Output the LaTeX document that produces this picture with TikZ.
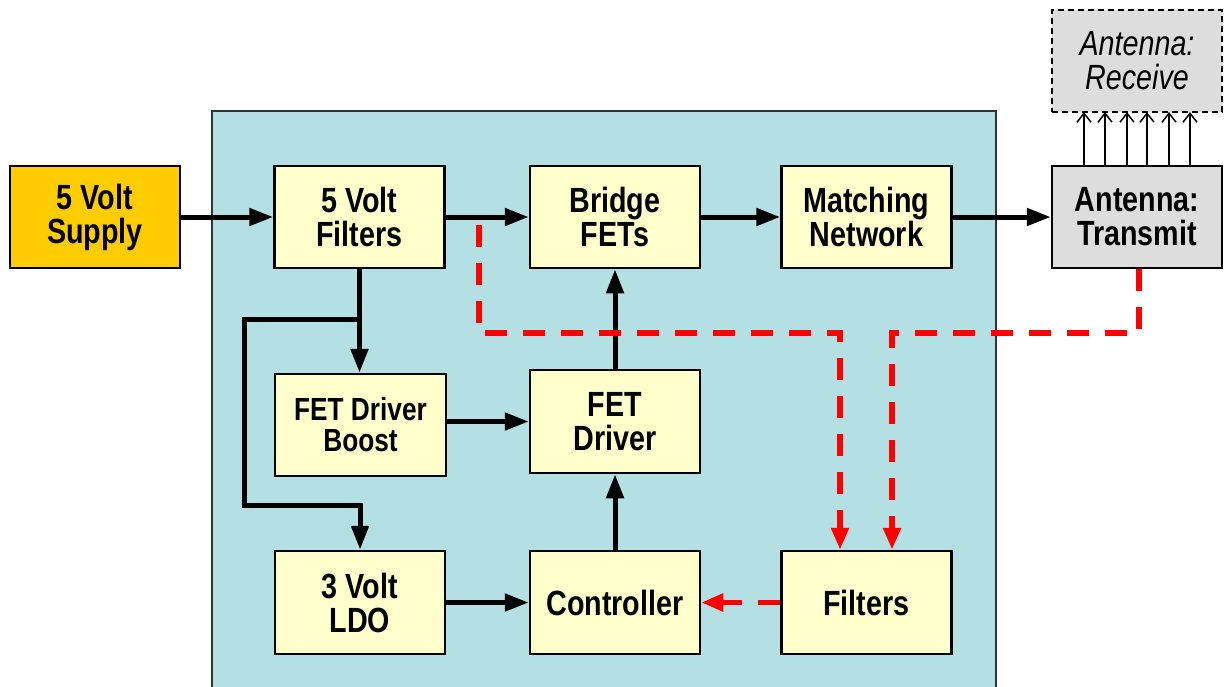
\documentclass[tikz,border=0pt]{standalone}
\usepackage{fontspec}
\setmainfont{Liberation Sans}[FakeStretch=0.82]
\usetikzlibrary{arrows.meta}
\definecolor{panel}{HTML}{B4DFE3}
\definecolor{boxy}{HTML}{FFFFCC}
\definecolor{supc}{HTML}{FFCC00}
\definecolor{grayb}{HTML}{DDDDDD}
\definecolor{redl}{HTML}{FF0000}
\tikzset{
  blk/.style={draw=black, line width=2.5pt, fill=boxy, minimum width=170pt, minimum height=102pt, align=center, inner sep=0pt, font=\fontsize{35}{34}\selectfont\bfseries},
  pw/.style={line width=5pt, -{Triangle[length=24pt,width=17pt]}},
  rd/.style={draw=redl, line width=5.5pt, dash pattern=on 22pt off 16pt, -{Triangle[length=22pt,width=17pt]}, redl},
  thin/.style={line width=1.5pt, -{Straight Barb[length=9pt,width=14pt]}},
}
\begin{document}
\begin{tikzpicture}[x=1pt,y=-1pt]
\useasboundingbox (0,0) rectangle (1225,686);
\fill[white] (0,0) rectangle (1225,686);
\draw[fill=panel, draw=black!80, line width=1.2pt] (212,111) rectangle (996,720);
\node[blk, fill=supc] (supply) at (95,217) {5 Volt\\Supply};
\node[blk] (vfilt) at (359.5,217) {5 Volt\\Filters};
\node[blk] (bridge) at (615,217) {Bridge\\FETs};
\node[blk] (match) at (866.5,217) {Matching\\Network};
\node[blk, fill=grayb] (antT) at (1137,217) {Antenna:\\Transmit};
\node[blk, fill=grayb, dash pattern=on 6pt off 4pt, line width=2pt, font=\fontsize{35}{34}\selectfont\itshape] (antR) at (1137,60.5) {Antenna:\\Receive};
\node[blk, minimum width=171pt, font=\fontsize{32}{31}\selectfont\bfseries] (boost) at (360.5,425) {FET Driver\\Boost};
\node[blk, minimum height=103pt] (fetdrv) at (615,421.5) {FET\\Driver};
\node[blk, minimum height=103pt] (ldo) at (360,602.5) {3 Volt\\LDO};
\node[blk, minimum height=103pt] (ctrl) at (615,602.5) {Controller};
\node[blk, minimum height=103pt] (filt) at (866.5,602.5) {Filters};
% power arrows
\draw[pw] (supply.east) -- (vfilt.west);
\draw[pw] (vfilt.east) -- (bridge.west);
\draw[pw] (bridge.east) -- (match.west);
\draw[pw] (match.east) -- (antT.west);
\draw[pw] (vfilt.south) -- (boost.north -| vfilt.south);
\coordinate (br) at (vfilt.south |- 0,319);
\coordinate (lc) at (244,505);
\draw[line width=5pt] ([xshift=2.5pt]br) -| (lc);
\draw[pw] ([xshift=-2.5pt]lc) -| (ldo.north);
\draw[pw] (boost.east |- fetdrv.west) -- (fetdrv.west);
\draw[pw] (fetdrv.north) -- (bridge.south);
\draw[pw] (ctrl.north) -- (fetdrv.south);
\draw[pw] (ldo.east) -- (ctrl.west);
% red dashed
\coordinate (r1) at (479,225);
\coordinate (r2) at (479,333);
\draw[rd] (r1) -- (r2) -| ([xshift=-26.5pt]filt.north);
\coordinate (r3) at (1139,333);
\draw[rd] ([xshift=2pt]antT.south) -- (r3) -| ([xshift=25.5pt]filt.north);
\draw[rd] (filt.west) -- (ctrl.east);
% antenna coupling arrows
\foreach \xx in {1084,1105,1127,1147,1169,1190}
  \draw[thin] (\xx,166) -- (\xx,112);
\end{tikzpicture}
\end{document}
